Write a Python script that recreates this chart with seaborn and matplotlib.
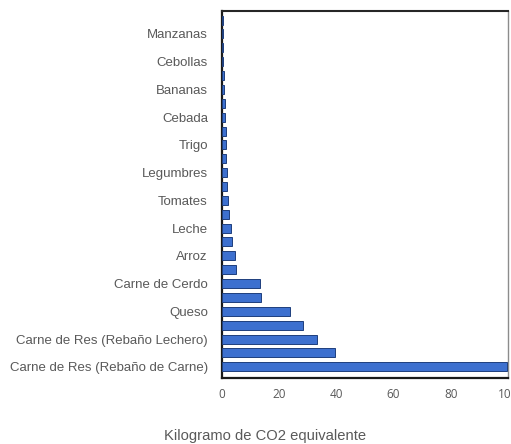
import matplotlib
matplotlib.use("Agg")
import matplotlib.pyplot as plt
import seaborn as sns
import pandas as pd

# Categories from bottom (largest) to top (smallest); every other bar is labelled
categories = [
    "Carne de Res (Rebaño de Carne)", "c1", "Carne de Res (Rebaño Lechero)", "c3",
    "Queso", "c5", "Carne de Cerdo", "c7", "Arroz", "c9", "Leche", "c11",
    "Tomates", "c13", "Legumbres", "c15", "Trigo", "c17", "Cebada", "c19",
    "Bananas", "c21", "Cebollas", "c23", "Manzanas", "c25",
]
values = [
    99.5, 39.7, 33.3, 28.5, 23.9, 13.6, 13.3, 5.1, 4.5, 3.4, 3.2, 2.6,
    2.1, 1.8, 1.75, 1.6, 1.57, 1.4, 1.2, 1.0, 0.9, 0.7, 0.5, 0.45, 0.43, 0.4,
]
tick_labels = [c if not (c.startswith("c") and c[1:].isdigit()) else "" for c in categories]
x_ticks = [0, 20, 40, 60, 80, 100]
x_label = "Kilogramo de CO2 equivalente"

df = pd.DataFrame({"cat": categories, "val": values})
order = categories[::-1]

sns.set_style("white")
plt.rcParams["font.family"] = ["Liberation Sans", "DejaVu Sans"]

fig = plt.figure(figsize=(5.11, 4.44), dpi=100)
ax = fig.add_axes([0.434, 0.149, 0.56, 0.826])

sns.barplot(data=df, y="cat", x="val", order=order, orient="h",
            color="#3d70cf", edgecolor="#1f3f7d", linewidth=0.7,
            width=0.65, saturation=1, ax=ax)
for p in ax.patches:
    p.set_zorder(3)
    p.set_clip_on(False)

ax.set_xlim(0, 100)
ax.set_ylim(25.8, -0.65)
ax.set_xticks(x_ticks)
ax.set_xticklabels([str(t) for t in x_ticks], fontsize=8.5, color="#595959",
                   family=["Open Sans", "DejaVu Sans"])
ax.set_yticks(range(len(order)))
ax.set_yticklabels(tick_labels[::-1], fontsize=9.5, color="#595959")
ax.tick_params(axis="both", length=0)
ax.tick_params(axis="x", pad=7)
ax.tick_params(axis="y", pad=10)
ax.set_xlabel("")
ax.set_ylabel("")

ax.spines["top"].set_color("#262626")
ax.spines["top"].set_linewidth(1.5)
ax.spines["right"].set_color("#8c8c8c")
ax.spines["right"].set_linewidth(1.0)
ax.spines["left"].set_color("#1a1a1a")
ax.spines["left"].set_linewidth(1.6)
ax.spines["bottom"].set_color("#1a1a1a")
ax.spines["bottom"].set_linewidth(1.6)

fig.text(265 / 511, 1 - 436 / 444, x_label, ha="center", va="center",
         fontsize=10.6, color="#595959")

fig.savefig("out.png", dpi=100)
